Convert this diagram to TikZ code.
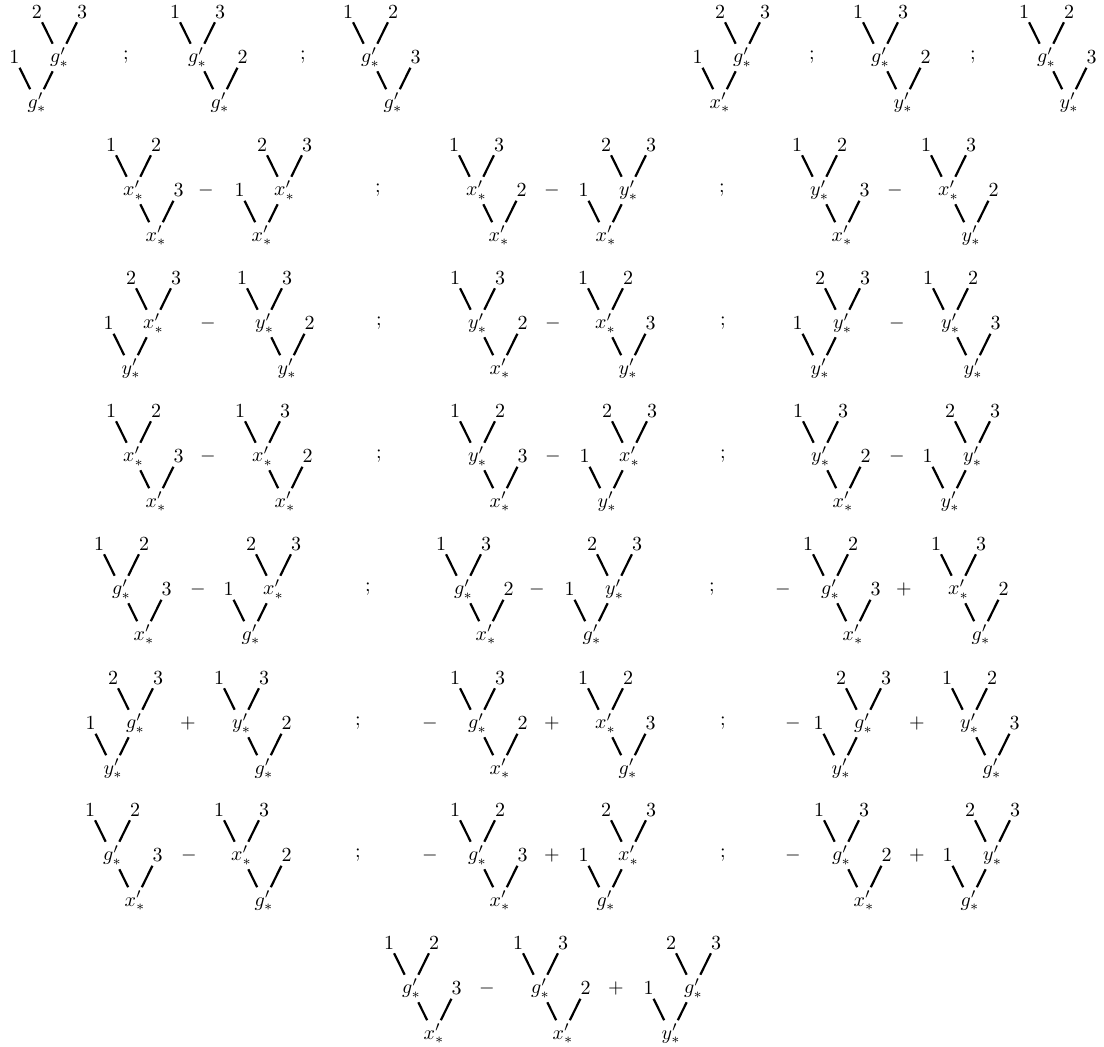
\documentclass[tikz,border=0pt]{standalone}
\begin{document}
\begin{tikzpicture}[x=0.5pt,y=-0.5pt,
  lab/.style={inner sep=1.7pt},
  edge/.style={line width=1.1pt},
  opsym/.style={inner sep=0pt}]
\useasboundingbox (0,0) rectangle (1104,1047);
% type A: leaf left, internal right
\newcommand{\TA}[8]{%
  \node[lab] (#1r) at (#2,#3) {$#4'_*$};
  \node[lab] (#1l) at ({#2-22.5},{#3-45.5}) {$#6$};
  \node[lab] (#1i) at ({#2+22.5},{#3-45.5}) {$#5'_*$};
  \node[lab] (#1a) at ({#2},{#3-91}) {$#7$};
  \node[lab] (#1b) at ({#2+45},{#3-91}) {$#8$};
  \draw[edge] (#1l) -- (#1r);
  \draw[edge] (#1i) -- (#1r);
  \draw[edge] (#1a) -- (#1i);
  \draw[edge] (#1b) -- (#1i);}
% type B: internal left, leaf right
\newcommand{\TB}[8]{%
  \node[lab] (#1r) at (#2,#3) {$#4'_*$};
  \node[lab] (#1i) at ({#2-22.5},{#3-45.5}) {$#5'_*$};
  \node[lab] (#1l) at ({#2+22.5},{#3-45.5}) {$#6$};
  \node[lab] (#1a) at ({#2-45},{#3-91}) {$#7$};
  \node[lab] (#1b) at ({#2},{#3-91}) {$#8$};
  \draw[edge] (#1i) -- (#1r);
  \draw[edge] (#1l) -- (#1r);
  \draw[edge] (#1a) -- (#1i);
  \draw[edge] (#1b) -- (#1i);}
\newcommand{\OP}[4]{\node[opsym] (#1) at (#2,{#3-45.5}) {$#4$};}
% Row 0
\TA{a1}{37}{103}{g}{g}{1}{2}{3}
\OP{as1}{126}{103}{;}
\TB{a2}{220}{103}{g}{g}{2}{1}{3}
\OP{as2}{303}{103}{;}
\TB{a3}{393}{103}{g}{g}{3}{1}{2}
\TA{a4}{720}{103}{x}{g}{1}{2}{3}
\OP{as3}{812}{103}{;}
\TB{a5}{903}{103}{y}{g}{2}{1}{3}
\OP{as4}{973}{103}{;}
\TB{a6}{1069}{103}{y}{g}{3}{1}{2}
% Row 1
\TB{b1}{156}{236}{x}{x}{3}{1}{2}
\OP{bo1}{206}{236}{-}
\TA{b2}{262}{236}{x}{x}{1}{2}{3}
\OP{bs1}{378}{236}{;}
\TB{b3}{499}{236}{x}{x}{2}{1}{3}
\OP{bo2}{552}{236}{-}
\TA{b4}{606}{236}{x}{y}{1}{2}{3}
\OP{bs2}{722}{236}{;}
\TB{b5}{842}{236}{x}{y}{3}{1}{2}
\OP{bo3}{895}{236}{-}
\TB{b6}{971}{236}{y}{x}{2}{1}{3}
% Row 2
\TA{c1}{131}{369}{y}{x}{1}{2}{3}
\OP{co1}{208}{369}{-}
\TB{c2}{287}{369}{y}{y}{2}{1}{3}
\OP{cs1}{379}{369}{;}
\TB{c3}{500}{369}{x}{y}{2}{1}{3}
\OP{co2}{553}{369}{-}
\TB{c4}{628}{369}{y}{x}{3}{1}{2}
\OP{cs2}{723}{369}{;}
\TA{c5}{820}{369}{y}{y}{1}{2}{3}
\OP{co3}{897}{369}{-}
\TB{c6}{973}{369}{y}{y}{3}{1}{2}
% Row 3
\TB{d1}{156}{502}{x}{x}{3}{1}{2}
\OP{do1}{208}{502}{-}
\TB{d2}{285}{502}{x}{x}{2}{1}{3}
\OP{ds1}{379}{502}{;}
\TB{d3}{500}{502}{x}{y}{3}{1}{2}
\OP{do2}{553}{502}{-}
\TA{d4}{607}{502}{y}{x}{1}{2}{3}
\OP{ds2}{723}{502}{;}
\TB{d5}{843}{502}{x}{y}{2}{1}{3}
\OP{do3}{897}{502}{-}
\TA{d6}{950}{502}{y}{y}{1}{2}{3}
% Row 4
\TB{e1}{144}{635}{x}{g}{3}{1}{2}
\OP{eo1}{198}{635}{-}
\TA{e2}{251}{635}{g}{x}{1}{2}{3}
\OP{es1}{368}{635}{;}
\TB{e3}{486}{635}{x}{g}{2}{1}{3}
\OP{eo2}{537}{635}{-}
\TA{e4}{592}{635}{g}{y}{1}{2}{3}
\OP{es2}{712}{635}{;}
\OP{eo3}{783}{635}{-}
\TB{e5}{853}{635}{x}{g}{3}{1}{2}
\OP{eo4}{904}{635}{+}
\TB{e6}{981}{635}{g}{x}{2}{1}{3}
% Row 5
\TA{f1}{113}{769}{y}{g}{1}{2}{3}
\OP{fo1}{188}{769}{+}
\TB{f2}{264}{769}{g}{y}{2}{1}{3}
\OP{fs1}{358}{769}{;}
\OP{fo2}{430}{769}{-}
\TB{f3}{500}{769}{x}{g}{2}{1}{3}
\OP{fo3}{552}{769}{+}
\TB{f4}{628}{769}{g}{x}{3}{1}{2}
\OP{fs2}{723}{769}{;}
\OP{fo4}{793}{769}{-}
\TA{f5}{841}{769}{y}{g}{1}{2}{3}
\OP{fo5}{917}{769}{+}
\TB{f6}{992}{769}{g}{y}{3}{1}{2}
% Row 6
\TB{h1}{135}{901}{x}{g}{3}{1}{2}
\OP{ho1}{189}{901}{-}
\TB{h2}{264}{901}{g}{x}{2}{1}{3}
\OP{hs1}{358}{901}{;}
\OP{ho2}{430}{901}{-}
\TB{h3}{500}{901}{x}{g}{3}{1}{2}
\OP{ho3}{552}{901}{+}
\TA{h4}{606}{901}{g}{x}{1}{2}{3}
\OP{hs2}{723}{901}{;}
\OP{ho4}{793}{901}{-}
\TB{h5}{864}{901}{x}{g}{2}{1}{3}
\OP{ho5}{917}{901}{+}
\TA{h6}{970}{901}{g}{y}{1}{2}{3}
% Row 7
\TB{k1}{434}{1034}{x}{g}{3}{1}{2}
\OP{ko1}{487}{1034}{-}
\TB{k2}{563}{1034}{x}{g}{2}{1}{3}
\OP{ko2}{616}{1034}{+}
\TA{k3}{671}{1034}{y}{g}{1}{2}{3}
\end{tikzpicture}
\end{document}
